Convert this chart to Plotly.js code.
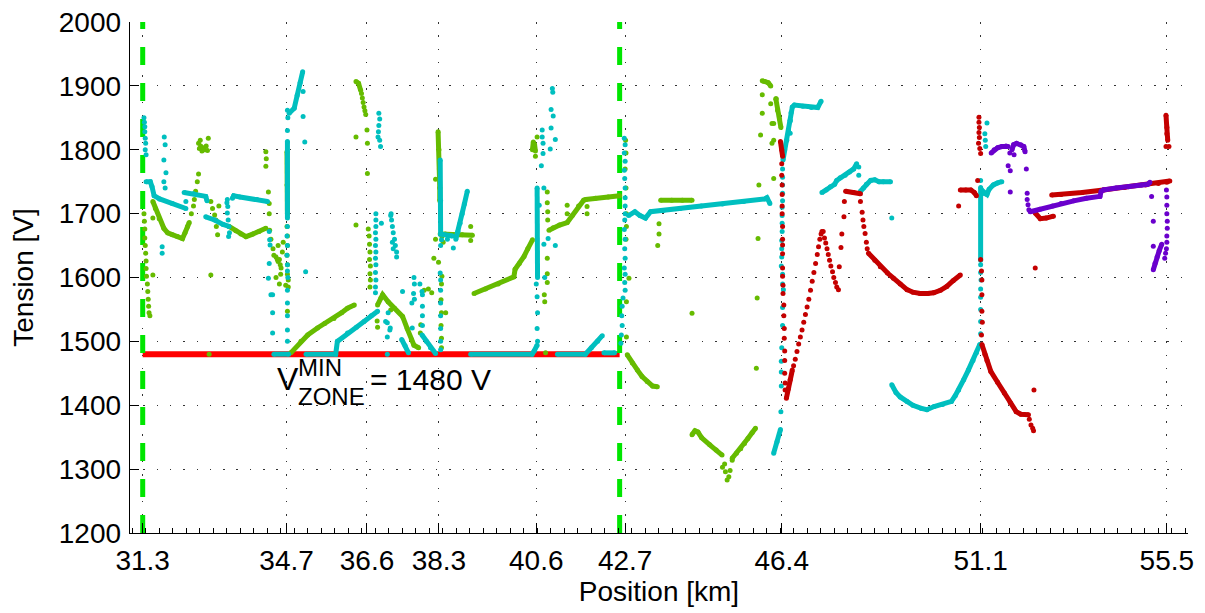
<!DOCTYPE html>
<html>
<head>
<meta charset="utf-8">
<script src="https://cdn.plot.ly/plotly-3.0.1.min.js"></script>
<style>html,body{margin:0;padding:0;background:#fff;}#chart{width:1205px;height:613px;}</style>
</head>
<body>
<div id="chart"></div>
<script>
// ---- axis ticks ----
const xTickVals = [31.3, 34.7, 36.6, 38.3, 40.6, 42.7, 46.4, 51.1, 55.5];
const xTickText = ["31.3", "34.7", "36.6", "38.3", "40.6", "42.7", "46.4", "51.1", "55.5"];

// ---- zone limits ----
const zoneStartKm = 31.3;
const zoneEndKm = 42.57;
const vMinZone = 1480;

// ---- green series: dense runs (pairs [km, V]) ----
const greenRuns = [
  [[31.54,1719],[31.6,1708],[31.69,1692],[31.8,1677],[31.89,1670],[32.0,1667],[32.12,1664],[32.24,1661],[32.3,1670],[32.36,1680],[32.4,1686]],
  [[33.34,1680],[33.5,1673],[33.62,1668],[33.74,1664],[33.9,1668],[34.05,1672],[34.21,1677]],
  [[34.71,1797],[34.71,1745],[34.72,1700]],
  [[34.8,1482],[35.04,1500],[35.2,1510],[35.43,1521],[35.6,1528],[35.82,1536],[36.0,1545],[36.14,1552],[36.3,1557]],
  [[36.85,1557],[36.93,1568],[36.97,1573],[37.1,1562],[37.25,1552],[37.44,1539],[37.55,1520],[37.65,1503],[37.71,1494],[37.82,1490]],
  [[36.34,1907],[36.4,1904],[36.45,1893]],
  [[38.28,1828],[38.3,1800],[38.31,1770],[38.32,1740],[38.32,1720]],
  [[38.33,1668],[38.6,1667],[38.85,1667],[39.09,1666]],
  [[39.13,1575],[39.4,1582],[39.7,1590],[40.07,1601],[40.1,1613],[40.2,1622],[40.31,1633],[40.4,1645],[40.51,1659]],
  [[40.51,1800],[40.53,1812],[40.56,1808],[40.58,1798]],
  [[40.9,1674],[41.0,1678],[41.15,1682],[41.33,1686],[41.45,1697],[41.6,1712],[41.72,1721],[41.77,1722],[42.0,1724],[42.3,1726],[42.57,1728]],
  [[42.75,1479],[42.87,1466],[42.99,1455],[43.1,1445],[43.22,1437],[43.35,1430],[43.46,1429]],
  [[43.54,1721],[43.8,1721],[44.05,1721],[44.28,1721]],
  [[44.28,1354],[44.35,1360],[44.42,1358],[44.51,1349],[44.7,1338],[44.85,1330],[44.99,1322]],
  [[45.23,1317],[45.33,1325],[45.43,1332],[45.52,1340],[45.6,1348],[45.7,1357],[45.78,1364]],
  [[45.94,1908],[46.0,1907],[46.08,1905],[46.14,1900]],
  [[46.26,1880],[46.3,1862],[46.35,1848],[46.38,1835]]
];
// ---- green series: isolated points ----
const greenPoints = [
  [31.33,1700],[31.34,1688],[31.35,1676],[31.35,1662],[31.36,1650],[31.37,1638],[31.38,1626],[31.38,1614],[31.39,1602],[31.41,1590],[31.42,1578],[31.43,1566],[31.44,1555],[31.45,1545],[31.47,1540],
  [31.54,1693],[31.54,1604],
  [32.45,1700],[32.5,1712],[32.52,1722],[32.55,1735],[32.59,1750],[32.62,1762],
  [32.62,1810],[32.64,1802],[32.67,1806],[32.7,1798],[32.73,1803],[32.76,1800],[32.8,1806],[32.85,1818],[32.83,1799],[32.66,1815],
  [32.87,1480],[32.91,1604],
  [32.91,1719],[32.95,1708],[33.0,1698],[33.03,1690],[33.04,1680],[33.07,1667],[33.1,1712],
  [34.21,1797],[34.22,1786],[34.21,1774],[34.27,1734],[34.29,1716],[34.29,1700],
  [34.3,1674],[34.33,1660],[34.38,1645],[34.4,1635],[34.45,1632],[34.48,1628],[34.5,1625],[34.53,1628],[34.55,1620],[34.57,1615],[34.56,1605],[34.6,1640],[34.62,1655],[34.5,1650],[34.45,1600],[34.53,1590],
  [34.71,1680],[34.72,1665],[34.72,1650],[34.71,1635],[34.72,1620],[34.72,1605],[34.74,1596],[34.74,1585],[34.68,1588],[34.72,1547],
  [36.47,1888],[36.49,1881],[36.51,1874],[36.53,1867],[36.55,1861],[36.57,1855],
  [36.34,1820],[36.34,1682],[36.61,1763],[36.6,1831],[36.61,1810],
  [36.63,1676],[36.65,1665],[36.66,1652],[36.67,1640],[36.66,1628],[36.68,1618],[36.67,1606],[36.68,1596],[36.67,1585],[36.84,1532],[36.85,1522],
  [37.16,1549],[37.95,1580],[38.05,1582],[38.13,1576],[37.87,1526],[37.86,1513],
  [38.22,1754],[38.22,1660],[38.37,1664],[38.4,1655],[38.45,1668],[39.05,1680],[39.05,1658],[38.18,1630],[38.29,1624],[38.37,1602],
  [38.36,1590],[38.35,1565],[38.36,1545],[38.35,1525],[38.36,1505],[38.36,1490],[38.46,1545],
  [40.62,1820],[40.58,1790],
  [40.86,1734],[40.86,1717],[40.87,1703],[40.87,1690],[40.86,1630],[40.86,1606],[40.86,1592],[40.8,1562],[40.79,1573],[40.82,1482],
  [41.33,1713],[41.33,1700],[41.8,1711],[41.8,1700],
  [42.71,1815],[42.72,1795],[42.7,1770],[42.72,1740],[42.73,1700],[42.73,1680],[42.72,1660],[42.79,1599],[42.73,1562],[42.73,1507],
  [43.5,1684],[43.5,1668],[43.47,1650],[44.28,1544],
  [45.0,1303],[45.07,1296],[45.15,1288],[45.11,1283],[45.18,1298],[45.23,1314],[45.05,1308],
  [45.82,1568],[45.8,1458],[45.84,1661],
  [45.94,1886],[46.27,1880],[46.14,1872],[45.94,1857],[46.21,1841],[46.17,1841],[45.9,1823],[46.21,1815],[46.17,1810],[45.86,1745],[46.21,1755]
];

// ---- cyan series ----
const cyanRuns = [
  [[31.38,1750],[31.48,1750],[31.52,1742],[31.57,1728],[31.7,1723],[32.0,1716],[32.32,1708]],
  [[32.28,1733],[32.5,1731],[32.79,1727],[32.82,1720]],
  [[32.79,1695],[33.0,1690],[33.2,1683],[33.34,1680]],
  [[33.42,1724],[33.45,1728],[33.6,1726],[34.0,1722],[34.25,1719]],
  [[34.72,1813],[34.72,1693]],
  [[34.76,1857],[34.88,1865],[34.95,1885],[35.02,1905],[35.08,1922]],
  [[34.4,1480],[34.75,1480]],
  [[35.16,1480],[35.86,1480],[35.9,1500],[36.14,1513],[36.35,1522],[36.53,1531],[36.7,1540],[36.85,1547]],
  [[37.42,1503],[37.5,1493],[37.58,1482]],
  [[37.9,1510],[38.0,1500],[38.1,1490],[38.22,1481]],
  [[38.33,1784],[38.34,1720],[38.34,1668],[38.62,1665]],
  [[38.7,1660],[38.75,1672],[38.8,1685],[38.85,1700],[38.9,1715],[38.97,1735]],
  [[40.62,1740],[40.63,1600]],
  [[39.05,1480],[40.5,1480],[40.55,1485],[40.62,1494]],
  [[41.1,1480],[41.76,1480],[41.9,1490],[42.05,1500],[42.16,1509]],
  [[42.2,1482],[42.45,1482]],
  [[42.78,1697],[42.93,1703],[43.05,1697],[43.18,1693],[43.3,1703],[43.6,1705],[44.0,1708],[44.5,1712],[45.0,1715],[45.5,1719],[46.0,1723],[46.05,1725],[46.12,1716]],
  [[46.43,1784],[46.47,1800],[46.52,1815],[46.56,1830],[46.6,1845],[46.62,1858],[46.65,1867],[46.7,1870],[46.9,1868],[47.1,1866],[47.25,1866],[47.33,1876]],
  [[46.21,1325],[46.29,1343],[46.37,1362]],
  [[47.35,1733],[47.45,1737],[47.55,1742],[47.65,1746],[47.7,1752],[47.78,1756],[47.9,1760],[48.0,1765],[48.1,1770],[48.17,1778]],
  [[48.26,1735],[48.33,1740],[48.4,1746],[48.5,1752],[48.6,1753],[48.7,1750],[48.8,1750],[48.97,1750]],
  [[49.0,1432],[49.1,1420],[49.2,1413],[49.36,1406],[49.5,1400],[49.7,1395],[49.83,1393],[50.0,1398],[50.2,1401],[50.41,1406],[50.5,1415],[50.58,1424],[50.7,1440],[50.81,1455],[50.92,1470],[51.0,1482],[51.08,1495]],
  [[51.12,1737],[51.2,1731],[51.25,1730],[51.3,1738],[51.4,1745],[51.5,1748],[51.6,1750]],
  [[51.1,1741],[51.1,1627]]
];
const cyanPoints = [
  [31.33,1850],[31.34,1843],[31.35,1836],[31.35,1828],[31.36,1818],[31.37,1810],[31.36,1800],[31.38,1792],
  [31.81,1820],[31.83,1808],[31.8,1784],[31.85,1764],[31.8,1750],[31.83,1740],[31.76,1648],[31.76,1638],[32.32,1719],
  [33.3,1722],[33.29,1717],[33.31,1711],[33.3,1701],[33.32,1690],[33.35,1670],[33.33,1664],
  [34.29,1672],[34.3,1659],[34.31,1651],[34.29,1622],[34.27,1599],[34.33,1573],[34.37,1573],[34.37,1545],[34.37,1513],
  [34.72,1862],[34.73,1850],[34.72,1830],[34.72,1680],[34.71,1665],[34.72,1650],[34.71,1635],[34.72,1620],[34.72,1610],[34.73,1600],[34.72,1580],[34.72,1560],[34.72,1540],[34.72,1518],[34.72,1500],
  [35.09,1891],[35.09,1852],[35.13,1812],[35.15,1609],
  [36.88,1857],[36.9,1848],[36.88,1838],[36.87,1828],[36.86,1820],[36.9,1815],[36.92,1805],[36.94,1685],
  [36.81,1700],[36.81,1690],[36.81,1680],[36.8,1670],[36.81,1660],[36.8,1650],[36.81,1640],[36.8,1630],[36.81,1620],[36.8,1608],[36.81,1596],[36.8,1585],[36.8,1576],
  [37.08,1480],[37.08,1507],[37.15,1521],[37.04,1531],[37.08,1529],[37.14,1518],[37.1,1545],[37.44,1578],[37.66,1560],[37.67,1521],
  [37.17,1700],[37.18,1690],[37.2,1680],[37.22,1670],[37.25,1660],[37.2,1655],[37.27,1650],[37.22,1645],[37.3,1640],[37.3,1632],[37.16,1697],
  [37.71,1600],[37.72,1590],[37.7,1575],[37.72,1566],[37.85,1590],[37.9,1578],[37.91,1573],[37.91,1555],[37.91,1540],[37.91,1525],
  [38.33,1607],[38.34,1596],[38.34,1580],[38.34,1560],[38.34,1540],[38.34,1520],[38.34,1500],[38.34,1487],
  [38.34,1650],[38.64,1646],[38.36,1659],[38.5,1660],
  [40.98,1896],[40.99,1890],[40.95,1863],[41.0,1853],[40.95,1834],[40.74,1831],[40.74,1820],[40.76,1810],[41.05,1816],[40.93,1801],[40.76,1794],[40.72,1775],[40.78,1740],[40.78,1652],[40.88,1661],[41.05,1650],[40.67,1713],[40.8,1600],
  [40.6,1590],[40.62,1570],[40.63,1545],[40.62,1520],[40.63,1500],
  [42.68,1818],[42.7,1808],[42.68,1795],[42.7,1782],[42.68,1768],[42.69,1755],[42.7,1740],[42.7,1725],[42.7,1712],[42.7,1700],[42.69,1690],[42.68,1675],[42.7,1660],[42.69,1645],[42.7,1630],[42.68,1615],[42.7,1605],[42.69,1592],[42.7,1580],[42.65,1568],[42.63,1555],[42.62,1540],[42.63,1525],[42.61,1510],[42.6,1497],
  [46.42,1770],[46.42,1757],[46.42,1745],[46.42,1732],[46.42,1720],[46.41,1710],[46.41,1697],[46.41,1685],[46.41,1672],[46.4,1658],[46.4,1645],[46.4,1632],[46.39,1618],[46.42,1605],[46.42,1590],[46.44,1581],[46.42,1553],[46.42,1525],[46.4,1490],[46.39,1469],[46.39,1452],[46.39,1430],[46.38,1390],
  [46.6,1846],[46.6,1826],
  [48.22,1773],[48.22,1760],[49.0,1693],
  [51.25,1842],[51.2,1825],[51.21,1815],[51.22,1805],[51.1,1752],[51.1,1620],[51.1,1608],[51.11,1596],[51.1,1582],[51.1,1569],[51.1,1550],[51.1,1531],[51.1,1512],[51.1,1495]
];

// ---- dark red series ----
const darkRedRuns = [
  [[48.45,1638],[48.6,1627],[48.73,1617],[48.9,1607],[49.04,1599],[49.2,1590],[49.36,1581],[49.5,1577],[49.67,1575],[49.85,1575],[49.99,1576],[50.15,1580],[50.3,1586],[50.45,1595],[50.62,1604]],
  [[47.91,1735],[48.1,1733],[48.26,1731]],
  [[50.62,1737],[50.75,1737],[50.87,1737],[50.95,1733],[51.0,1728]],
  [[51.13,1495],[51.2,1480],[51.25,1470],[51.34,1453],[51.5,1436],[51.66,1419],[51.8,1404],[51.94,1390],[52.05,1386],[52.23,1385]],
  [[52.39,1701],[52.51,1692],[52.65,1693],[52.82,1696]],
  [[52.78,1729],[53.0,1730],[53.5,1733],[54.0,1737],[54.5,1741],[55.0,1745],[55.3,1747],[55.5,1749],[55.57,1751]],
  [[46.37,1813],[46.4,1800],[46.42,1790]],
  [[55.48,1854],[55.5,1835],[55.52,1815]],
  [[46.51,1411],[46.55,1425],[46.6,1440],[46.65,1455]]
];
const darkRedPoints = [
  [51.06,1851],[51.06,1843],[51.07,1835],[51.06,1827],[51.07,1819],[51.05,1810],[51.08,1802],[51.1,1794],
  [46.4,1778],[46.4,1760],[46.41,1745],[46.41,1730],[46.41,1712],[46.41,1700],[46.42,1680],[46.42,1660],[46.42,1651],[46.42,1637],[46.42,1615],[46.42,1602],[46.43,1588],[46.43,1575],[46.45,1557],[46.45,1540],[46.46,1520],[46.46,1505],[46.47,1485],[46.47,1470],[46.47,1450],[46.48,1435],[46.48,1424],
  [46.68,1462],[46.72,1472],[46.76,1484],[46.8,1496],[46.84,1507],[46.88,1518],[46.92,1530],[46.96,1542],[47.0,1554],[47.04,1566],[47.08,1580],[47.12,1594],[47.16,1608],[47.2,1622],[47.24,1636],[47.27,1648],[47.3,1660],[47.33,1668],[47.35,1672],[47.38,1672],
  [47.41,1662],[47.44,1654],[47.47,1645],[47.5,1636],[47.53,1627],[47.56,1618],[47.6,1609],[47.63,1600],[47.67,1592],[47.7,1585],[47.74,1581],
  [47.88,1719],[47.87,1695],[47.82,1668],[47.8,1647],[47.76,1617],
  [48.26,1719],[48.3,1702],[48.32,1690],[48.34,1680],[48.37,1669],[48.4,1655],[48.42,1645],
  [50.58,1712],[51.03,1752],
  [51.1,1628],[51.12,1610],[51.13,1596],[51.13,1573],[51.13,1547],[51.14,1530],[51.12,1510],
  [52.25,1378],[52.29,1369],[52.33,1364],[52.35,1360],[52.36,1424],[52.39,1615],
  [55.48,1805],[55.55,1805],[55.5,1825]
];

// ---- purple series ----
const purpleRuns = [
  [[51.35,1795],[51.42,1800],[51.5,1803],[51.6,1805],[51.7,1806],[51.75,1805]],
  [[51.84,1800],[51.88,1808],[51.95,1810],[52.05,1808],[52.12,1805],[52.15,1797]],
  [[52.27,1703],[52.5,1707],[52.8,1712],[53.0,1716],[53.3,1720],[53.6,1724],[53.92,1727],[53.95,1735],[54.0,1737],[54.3,1740],[54.6,1742],[54.9,1745],[55.05,1746],[55.1,1749]],
  [[55.18,1612],[55.22,1622],[55.27,1632],[55.32,1642],[55.38,1652]]
];
const purplePoints = [
  [51.79,1795],[51.89,1792],[51.75,1775],[51.8,1767],[52.18,1770],[51.8,1734],[52.2,1732],[52.2,1722],[52.22,1714],[52.24,1706],
  [55.14,1727],[55.18,1688],[55.18,1649],
  [55.49,1737],[55.5,1726],[55.5,1713],[55.5,1700],[55.51,1688],[55.51,1677],[55.5,1665],[55.5,1655],[55.49,1645],[55.47,1638],[55.45,1630]
];

// ---- colours ----
const GREEN = "#66bb00", CYAN = "#00bfbf", DARKRED = "#c40000", PURPLE = "#6a00cc";

function runsXY(runs) {
  const x = [], y = [];
  runs.forEach((r, i) => {
    if (i > 0) { x.push(null); y.push(null); }
    r.forEach(p => { x.push(p[0]); y.push(p[1]); });
  });
  return {x, y};
}
function ptsXY(pts) {
  return {x: pts.map(p => p[0]), y: pts.map(p => p[1])};
}
function runTrace(runs, color) {
  const d = runsXY(runs);
  return {type: "scatter", mode: "lines+markers", x: d.x, y: d.y, connectgaps: false,
    line: {color: color, width: 5}, marker: {color: color, size: 5}, hoverinfo: "skip", showlegend: false};
}
function ptTrace(pts, color) {
  const d = ptsXY(pts);
  return {type: "scatter", mode: "markers", x: d.x, y: d.y,
    marker: {color: color, size: 5}, hoverinfo: "skip", showlegend: false};
}

const traces = [
  {type: "scatter", mode: "lines", x: [zoneStartKm, zoneEndKm], y: [vMinZone, vMinZone],
   line: {color: "#ff0000", width: 6}, showlegend: false, hoverinfo: "skip"},
  {type: "scatter", mode: "lines", x: [zoneStartKm, zoneStartKm], y: [1200, 2000],
   line: {color: "#00e600", width: 5, dash: "18px,18px"}, showlegend: false, hoverinfo: "skip"},
  {type: "scatter", mode: "lines", x: [zoneEndKm, zoneEndKm], y: [1200, 2000],
   line: {color: "#00e600", width: 5, dash: "18px,18px"}, showlegend: false, hoverinfo: "skip"},
  runTrace(greenRuns, GREEN), ptTrace(greenPoints, GREEN),
  runTrace(cyanRuns, CYAN), ptTrace(cyanPoints, CYAN),
  runTrace(darkRedRuns, DARKRED), ptTrace(darkRedPoints, DARKRED),
  runTrace(purpleRuns, PURPLE), ptTrace(purplePoints, PURPLE)
];

const FONT = "Liberation Sans, Arial, Helvetica, sans-serif";
const layout = {
  width: 1205, height: 613,
  margin: {l: 130, r: 17, t: 22, b: 80},
  paper_bgcolor: "#ffffff", plot_bgcolor: "#ffffff",
  font: {family: FONT, color: "#000", size: 28},
  showlegend: false,
  xaxis: {
    range: [31, 56], tickmode: "array", tickvals: xTickVals, ticktext: xTickText,
    ticks: "inside", ticklen: 10, tickwidth: 1, tickcolor: "#000",
    showline: true, linecolor: "#000", linewidth: 1.3, zeroline: false,
    showgrid: true, gridcolor: "#333", gridwidth: 1, griddash: "1.5px,11.8px",
    tickfont: {size: 28, family: FONT, color: "#000"}, ticklabelstandoff: 2,
    minor: {tickmode: "linear", tick0: 31.69, dtick: 0.319, ticks: "inside", ticklen: 5, tickcolor: "#000", tickwidth: 1, showgrid: false},
    title: {text: "Position [km]", font: {size: 28, family: FONT, color: "#000"}, standoff: 4},
    fixedrange: true
  },
  yaxis: {
    range: [1200, 2000], tickmode: "linear", tick0: 1200, dtick: 100,
    ticks: "inside", ticklen: 9, tickwidth: 1, tickcolor: "#000",
    showline: true, linecolor: "#000", linewidth: 1.3, zeroline: false,
    showgrid: true, gridcolor: "#333", gridwidth: 1, griddash: "1.5px,11.8px",
    tickfont: {size: 28, family: FONT, color: "#000"}, ticklabelstandoff: 2,
    title: {text: "Tension [V]", font: {size: 28, family: FONT, color: "#000"}, standoff: 17},
    fixedrange: true
  },
  annotations: [
    {x: 34.43, y: 1441, xref: "x", yref: "y", text: "V", showarrow: false, xanchor: "left", yanchor: "middle", font: {size: 32, family: FONT, color: "#000"}},
    {x: 34.92, y: 1459, xref: "x", yref: "y", text: "MIN", showarrow: false, xanchor: "left", yanchor: "middle", font: {size: 24, family: FONT, color: "#000"}},
    {x: 34.92, y: 1414, xref: "x", yref: "y", text: "ZONE", showarrow: false, xanchor: "left", yanchor: "middle", font: {size: 24, family: FONT, color: "#000"}},
    {x: 36.62, y: 1441, xref: "x", yref: "y", text: "= 1480 V", showarrow: false, xanchor: "left", yanchor: "middle", font: {size: 30, family: FONT, color: "#000"}}
  ]
};

Plotly.newPlot("chart", traces, layout, {displayModeBar: false, staticPlot: true});
</script>
</body>
</html>
